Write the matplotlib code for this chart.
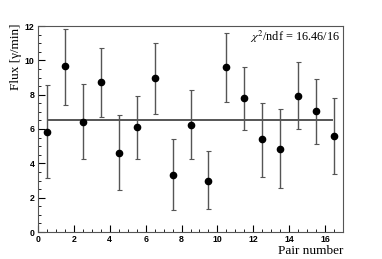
import matplotlib
matplotlib.use('Agg')
import matplotlib.pyplot as plt
from matplotlib.ticker import MultipleLocator

pair = [0.5, 1.5, 2.5, 3.5, 4.5, 5.5, 6.5, 7.5, 8.5, 9.5, 10.5, 11.5, 12.5, 13.5, 14.5, 15.5, 16.5]
flux = [5.85, 9.65, 6.4, 8.75, 4.6, 6.1, 8.95, 3.3, 6.25, 3.0, 9.6, 7.8, 5.4, 4.85, 7.95, 7.05, 5.6]
err_up = [8.55, 11.8, 8.6, 10.7, 6.8, 7.95, 11.0, 5.4, 8.27, 4.7, 11.6, 9.6, 7.53, 7.15, 9.88, 8.93, 7.82]
err_lo = [3.13, 7.38, 4.23, 6.68, 2.43, 4.23, 6.87, 1.28, 4.23, 1.32, 7.6, 5.94, 3.18, 2.54, 5.98, 5.1, 3.38]
fit_val = 6.54
fit_range = [0.6, 16.4]

fig = plt.figure(figsize=(3.82, 2.59), dpi=100)
ax = fig.add_axes([38/382, 1-232/259, 305/382, 206/259])

yerr = [[f - l for f, l in zip(flux, err_lo)], [u - f for f, u in zip(flux, err_up)]]
ax.errorbar(pair, flux, yerr=yerr, fmt='o', color='black', ms=4.5,
            ecolor='#555555', elinewidth=1.0, capsize=1.8, capthick=0.8)
ax.plot(fit_range, [fit_val, fit_val], color='#555555', lw=1.4)

ax.set_xlim(0, 17)
ax.set_ylim(0, 12)
ax.xaxis.set_major_locator(MultipleLocator(2))
ax.xaxis.set_minor_locator(MultipleLocator(0.5))
ax.yaxis.set_major_locator(MultipleLocator(2))
ax.yaxis.set_minor_locator(MultipleLocator(0.5))
ax.tick_params(which='both', direction='in', top=False, right=False)
ax.tick_params(which='major', length=5, width=0.8, labelsize=6.3, pad=2.5)
ax.tick_params(which='minor', length=2.5, width=0.6)
for lab in ax.get_xticklabels() + ax.get_yticklabels():
    lab.set_fontweight('bold')
    lab.set_family('Liberation Sans')
for s in ax.spines.values():
    s.set_color('#555555')
    s.set_linewidth(0.8)

fig.text(343/382, 1-245/259, 'Pair number', ha='right', va='top',
         family='Liberation Serif', fontsize=9.5)
fig.text(16/382, 1-24/259, 'Flux [γ/min]', ha='center', va='top', rotation=90,
         family='Liberation Serif', fontsize=9.5)
ax.text(0.99, 0.985, r'$\chi^2$/ndf = 16.46/16', transform=ax.transAxes,
        ha='right', va='top', family='Liberation Serif', fontsize=8.8,
        math_fontfamily='stix')

fig.savefig('out.png', dpi=100)
